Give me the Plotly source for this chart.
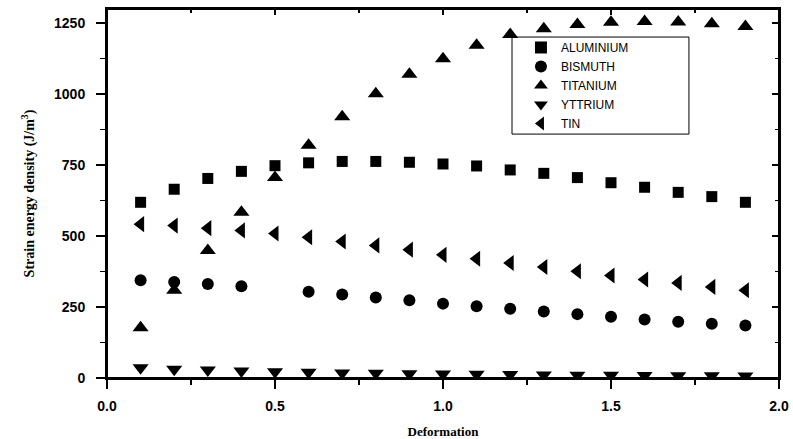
import plotly.graph_objects as go

deformation = [0.1, 0.2, 0.3, 0.4, 0.5, 0.6, 0.7, 0.8, 0.9, 1.0,
               1.1, 1.2, 1.3, 1.4, 1.5, 1.6, 1.7, 1.8, 1.9]

aluminium = [619, 665, 703, 728, 748, 758, 763, 763, 760, 754,
             747, 733, 721, 706, 688, 672, 654, 639, 619]
bismuth = [344, 338, 331, 323, None, 304, 294, 284, 274, 262,
           253, 244, 234, 225, 216, 206, 198, 191, 185]
titanium = [177, 309, 449, 584, 706, 820, 920, 1001, 1070, 1125,
            1172, 1210, 1230, 1245, 1253, 1256, 1254, 1248, 1238]
yttrium = [36, 31, 28, 25, 22, 20, 18, 17, 15, 14,
           13, 12, 11, 10, 10, 9, 8, 8, 7]
tin = [542, 537, 528, 520, 509, 496, 481, 467, 452, 434,
       420, 405, 391, 376, 361, 347, 335, 321, 309]

x_ticks = [0.0, 0.5, 1.0, 1.5, 2.0]
y_ticks = [0, 250, 500, 750, 1000, 1250]

series = [
    ("ALUMINIUM", aluminium, "square", 11),
    ("BISMUTH", bismuth, "circle", 12),
    ("TITANIUM", titanium, "triangle-up", 14),
    ("YTTRIUM", yttrium, "triangle-down", 14),
    ("TIN", tin, "triangle-left", 14),
]

fig = go.Figure()
for name, vals, sym, sz in series:
    fig.add_trace(go.Scatter(
        x=deformation, y=vals, mode="markers", name=name,
        marker=dict(symbol=sym, size=sz, color="black", line=dict(width=0)),
    ))

# invisible trace carrying the mirrored top/right axes
fig.add_trace(go.Scatter(x=[None], y=[None], xaxis="x2", yaxis="y2",
                         mode="markers", showlegend=False, hoverinfo="skip"))

tickfont = dict(family="Liberation Sans, Arial", size=14, color="black", weight="bold")
xrange_ = [0, 2.0]
yrange_ = [0, 1300]

base = dict(showgrid=False, zeroline=False, automargin=False,
            showline=True, linecolor="black", linewidth=2,
            tickwidth=1.5, tickcolor="black")

fig.update_layout(
    template="none",
    width=793, height=439,
    margin=dict(l=107, r=14, t=9, b=61, autoexpand=False),
    paper_bgcolor="white", plot_bgcolor="rgba(0,0,0,0)",
    dragmode=False,
    showlegend=True,
    legend=dict(
        x=0.616, y=0.935, xanchor="left", yanchor="top",
        borderwidth=0, bgcolor="rgba(0,0,0,0)",
        font=dict(family="Liberation Sans, Arial", size=12, color="black"),
        tracegroupgap=0, itemsizing="constant",
    ),
    xaxis=dict(
        range=xrange_, tickvals=x_ticks, tickformat=".1f",
        ticks="outside", ticklen=9,
        minor=dict(dtick=0.25, ticklen=5, tickwidth=1.5, ticks="outside", tickcolor="black"),
        tickfont=tickfont, ticklabelstandoff=5,
        title=dict(text="Deformation", font=dict(family="Liberation Serif, Times New Roman", size=13, color="black", weight="bold"), standoff=18),
        **base,
    ),
    yaxis=dict(
        range=yrange_, tickvals=y_ticks,
        ticks="outside", ticklen=9,
        minor=dict(dtick=125, ticklen=5, tickwidth=1.5, ticks="outside", tickcolor="black"),
        tickfont=tickfont, ticklabelstandoff=8,
        title=dict(text="Strain energy density (J/m<sup>3</sup>)", font=dict(family="Liberation Serif, Times New Roman", size=14, color="black", weight="bold"), standoff=16),
        **base,
    ),
    xaxis2=dict(
        overlaying="x", side="top", anchor="y", range=xrange_, tickvals=x_ticks,
        showticklabels=False, ticks="inside", ticklen=6,
        minor=dict(dtick=0.25, ticklen=4, tickwidth=1.5, ticks="inside", tickcolor="black"),
        **base,
    ),
    yaxis2=dict(
        overlaying="y", side="right", anchor="x", range=yrange_, tickvals=y_ticks,
        showticklabels=False, ticks="inside", ticklen=7,
        minor=dict(dtick=125, ticklen=4, tickwidth=1.5, ticks="inside", tickcolor="black"),
        **base,
    ),
    shapes=[
        # plot frame
        dict(type="rect", xref="paper", yref="paper", x0=0, x1=1, y0=0, y1=1,
             line=dict(color="black", width=2), fillcolor="rgba(0,0,0,0)", layer="above"),
        # legend box
        dict(type="rect", xref="paper", yref="paper", x0=0.6027, x1=0.866, y0=0.661, y1=0.924,
             line=dict(color="black", width=1), fillcolor="rgba(0,0,0,0)", layer="above"),
    ],
)

fig.write_html("out.html", config={"staticPlot": True, "displayModeBar": False})
